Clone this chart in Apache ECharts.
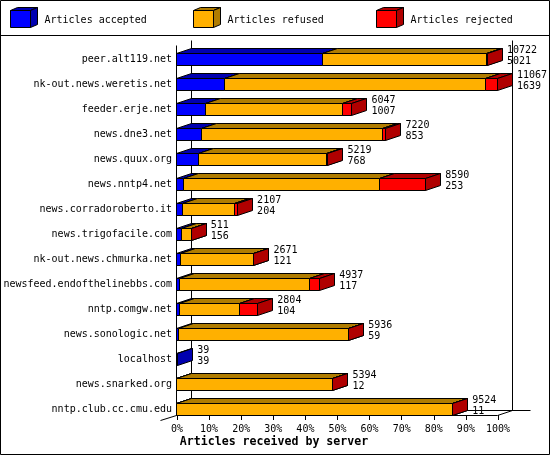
<!DOCTYPE html>
<html><head><meta charset="utf-8">
<style>html,body{margin:0;padding:0;background:#fff}#c{width:550px;height:455px}</style>
<script src="https://cdn.jsdelivr.net/npm/echarts@6/dist/echarts.min.js"></script>
</head><body><div id="c"></div>
<script>
const servers = ['peer.alt119.net','nk-out.news.weretis.net','feeder.erje.net','news.dne3.net','news.quux.org','news.nntp4.net','news.corradoroberto.it','news.trigofacile.com','nk-out.news.chmurka.net','newsfeed.endofthelinebbs.com','nntp.comgw.net','news.sonologic.net','localhost','news.snarked.org','nntp.club.cc.cmu.edu'];
const totals   = [10722,11067,6047,7220,5219,8590,2107,511,2671,4937,2804,5936,39,5394,9524];
const accepted = [5021,1639,1007,853,768,253,204,156,121,117,104,59,39,12,11];
const refused  = [5663,9015,4704,6252,4411,6732,1798,350,2540,4469,2054,5870,0,5380,9500];
const rejected = [38,413,336,115,40,1605,105,5,10,351,646,7,0,2,13];
const ticks = [0,10,20,30,40,50,60,70,80,90,100];
const legendNames = ['Articles accepted','Articles refused','Articles rejected'];
const fronts = ['#0000ff','#ffb000','#ff0000'];
const shades = ['#0000b0','#b07c00','#b00000'];

const MONO = '"DejaVu Sans Mono","Liberation Mono",monospace';
const DX = 15, DY = 5, BAR = 12;
const peak = Math.max.apply(null, totals);
const pct = v => v / peak * 100;
const snap = v => Math.round(v) + 0.5;

function face(points, fill) {
  return {type:'polygon', shape:{points}, style:{fill, stroke:'#000', lineWidth:1}};
}
function line(x1,y1,x2,y2) {
  return {type:'line', shape:{x1,y1,x2,y2}, style:{stroke:'#000', lineWidth:1, fill:null}};
}
function segmentSeries(idx, values) {
  const data = servers.map((s, i) => {
    let start = 0;
    for (let k = 0; k < idx; k++) start += [accepted, refused, rejected][k][i];
    return [pct(start), pct(start + values[i]), i];
  }).filter((d, i) => values[i] > 0);
  return {
    type:'custom', z:3, silent:true, clip:false, data,
    encode:{x:[0,1], y:2},
    renderItem(params, api) {
      const a = api.coord([api.value(0), api.value(2)]);
      const b = api.coord([api.value(1), api.value(2)]);
      const band = api.size([0,1])[1];
      const bottom = snap(a[1] + band / 2);
      const top = bottom - BAR;
      const x0 = snap(a[0]) - 1, x1 = snap(b[0]) - 1;
      const fill = fronts[idx], shade = shades[idx];
      return {type:'group', children:[
        face([[x0,top],[x0+DX,top-DY],[x1+DX,top-DY],[x1,top]], shade),
        face([[x1,top],[x1+DX,top-DY],[x1+DX,bottom-DY],[x1,bottom]], shade),
        face([[x0,top],[x1,top],[x1,bottom],[x0,bottom]], fill)
      ]};
    }
  };
}
const wallSeries = {
  type:'custom', z:1, silent:true, clip:false, data:[[0,0]],
  encode:{x:0, y:1},
  renderItem(params, api) {
    const cs = params.coordSys;
    const L = snap(api.coord([0,0])[0]) - 1, R = snap(api.coord([100,0])[0]) - 1;
    const T = cs.y + 0.5, B = cs.y + cs.height + 0.5;
    return {type:'group', children:[
      line(L, T+DY, L, B),
      line(L+DX, T, L+DX, B-DY),
      line(R+DX, T, R+DX, B-DY),
      line(L+DX, B-DY, R+DX+18, B-DY),
      line(L, B, R, B),
      line(L, B, L-16, B+DY),
      line(R, B, R+DX, B-DY)
    ]};
  }
};
const labelSeries = {
  type:'custom', z:5, silent:true, clip:false,
  data: servers.map((s,i) => [pct(totals[i]), i, totals[i], accepted[i]]),
  encode:{x:0, y:1},
  renderItem(params, api) {
    const p = api.coord([api.value(0), api.value(1)]);
    const bottom = p[1] + api.size([0,1])[1] / 2;
    const x = p[0] + DX + 4;
    const txt = (t, y) => ({type:'text', style:{text:String(t), x, y, fill:'#000', font:'10px '+MONO, textAlign:'left', textVerticalAlign:'middle'}});
    return {type:'group', children:[txt(api.value(2), bottom-15), txt(api.value(3), bottom-4)]};
  }
};

const legendGraphics = [];
legendNames.forEach((name, i) => {
  const x = 10.5 + 183 * i, top = 10.5, size = 20, h = 17, d = 7, u = 3;
  legendGraphics.push(
    {type:'polygon', z:6, shape:{points:[[x,top],[x+d,top-u],[x+size+d,top-u],[x+size,top]]}, style:{fill:shades[i],stroke:'#000',lineWidth:1}},
    {type:'polygon', z:6, shape:{points:[[x+size,top],[x+size+d,top-u],[x+size+d,top+h-u],[x+size,top+h]]}, style:{fill:shades[i],stroke:'#000',lineWidth:1}},
    {type:'rect', z:6, shape:{x,y:top,width:size,height:h}, style:{fill:fronts[i],stroke:'#000',lineWidth:1}},
    {type:'text', z:6, x:44.5 + 183 * i, y:20, style:{text:name, fill:'#000', font:'10px '+MONO, textVerticalAlign:'middle'}}
  );
});

const chart = echarts.init(document.getElementById('c'), null, {renderer:'canvas'});
chart.setOption({
  animation:false,
  backgroundColor:'#fff',
  grid:{left:177, top:40, width:321, height:375, containLabel:false},
  xAxis:{
    type:'value', min:ticks[0], max:ticks[ticks.length-1], interval:10,
    splitLine:{show:false},
    axisLine:{show:false, onZero:false},
    axisTick:{show:true, length:5, lineStyle:{color:'#000', width:1}},
    axisLabel:{show:true, margin:9, color:'#000', fontFamily:MONO, fontSize:10, formatter:'{value}%', showMinLabel:true, showMaxLabel:true, hideOverlap:false}
  },
  yAxis:{
    type:'category', inverse:true, data:servers,
    axisLine:{show:false}, axisTick:{show:false}, splitLine:{show:false},
    axisLabel:{show:true, interval:0, margin:5, color:'#000', fontFamily:MONO, fontSize:10, verticalAlign:'top', lineHeight:14, hideOverlap:false}
  },
  graphic:{elements:[
    {type:'rect', z:0, shape:{x:0.5,y:0.5,width:549,height:454}, style:{fill:null,stroke:'#000',lineWidth:1}},
    {type:'line', z:0, shape:{x1:0,y1:35.5,x2:550,y2:35.5}, style:{stroke:'#000',lineWidth:1}},
    {type:'text', z:6, x:274, y:442, style:{text:'Articles received by server', fill:'#000', font:'bold 11.6px '+MONO, textAlign:'center', textVerticalAlign:'middle'}}
  ].concat(legendGraphics)},
  series:[wallSeries, segmentSeries(0,accepted), segmentSeries(1,refused), segmentSeries(2,rejected), labelSeries]
});
</script></body></html>
